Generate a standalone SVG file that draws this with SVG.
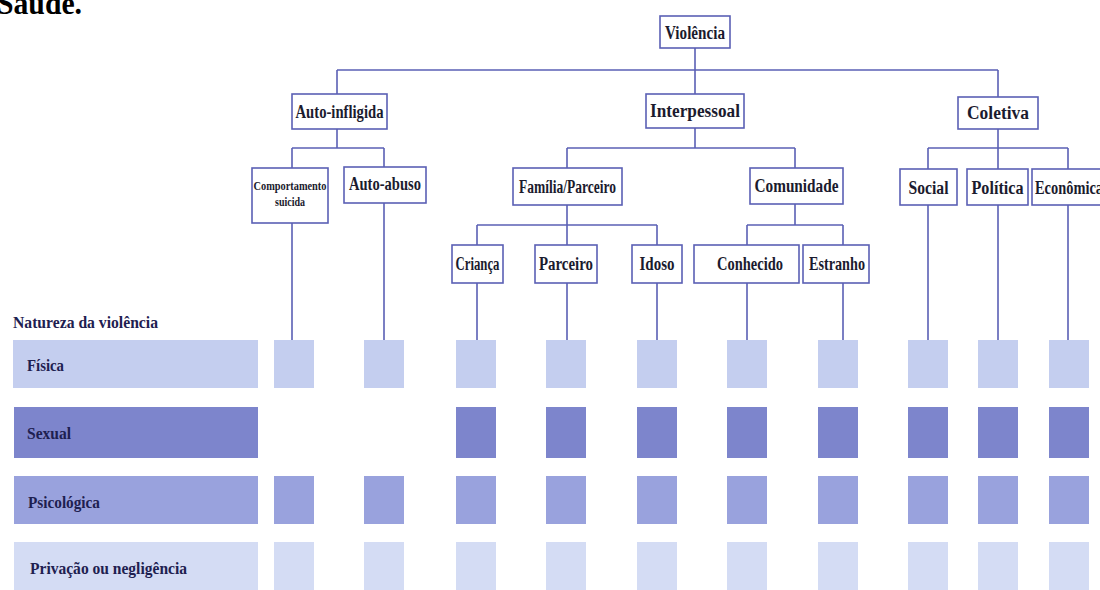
<svg xmlns="http://www.w3.org/2000/svg" width="1100" height="590" viewBox="0 0 1100 590">
  <style>
    .box { fill: #ffffff; stroke: #5b60b5; stroke-width: 1.6; }
    .conn { fill: none; stroke: #5b60b5; stroke-width: 1.6; }
    .lbl { font-family: "Liberation Serif", "Times New Roman", serif; font-weight: bold; font-size: 18px; fill: #1b1b2e; text-anchor: middle; }
    .sm { font-size: 13px; }
    .row { font-family: "Liberation Serif", "Times New Roman", serif; font-weight: bold; font-size: 17px; fill: #1e2050; }
    .fis { fill: #c4ceef; }
    .sex { fill: #7d85cc; }
    .psi { fill: #99a2dd; }
    .pri { fill: #d4dcf4; }
  </style>

  <text x="-3" y="14" font-family="Liberation Serif, serif" font-weight="bold" font-size="32" fill="#000000" textLength="85" lengthAdjust="spacingAndGlyphs">Saúde.</text>

  <g id="connectors">
    <path class="conn" d="M695,48 V70 M337,70 H998 M337,70 V94 M695,70 V94 M998,70 V97"/>
    <path class="conn" d="M337,129 V148 M292,148 H384 M292,148 V168 M384,148 V167"/>
    <path class="conn" d="M695,128 V148 M567,148 H795 M567,148 V168 M795,148 V168"/>
    <path class="conn" d="M998,129 V148 M928,148 H1068 M928,148 V169 M998,148 V169 M1068,148 V169"/>
    <path class="conn" d="M567,205 V225 M477,225 H657 M477,225 V245 M567,225 V245 M657,225 V245"/>
    <path class="conn" d="M795,204 V225 M747,225 H843 M747,225 V245 M843,225 V245"/>
    <path class="conn" d="M292,223 V340 M384,203 V340 M477,283 V340 M567,283 V340 M657,283 V340 M747,283 V340 M843,283 V340 M928,205 V340 M998,205 V340 M1068,205 V340"/>
  </g>

  <g id="violencia">
    <rect class="box" x="660" y="16" width="70" height="32"/>
    <text class="lbl" x="695" y="39" textLength="60" lengthAdjust="spacingAndGlyphs">Violência</text>
  </g>
  <g id="auto-infligida">
    <rect class="box" x="292" y="94" width="95" height="35"/>
    <text class="lbl" x="339.5" y="118" textLength="88" lengthAdjust="spacingAndGlyphs">Auto-infligida</text>
  </g>
  <g id="interpessoal">
    <rect class="box" x="646" y="94" width="98" height="34"/>
    <text class="lbl" x="695" y="117" textLength="90" lengthAdjust="spacingAndGlyphs">Interpessoal</text>
  </g>
  <g id="coletiva">
    <rect class="box" x="958" y="97" width="80" height="32"/>
    <text class="lbl" x="998" y="119" textLength="62" lengthAdjust="spacingAndGlyphs">Coletiva</text>
  </g>

  <g id="comportamento-suicida">
    <rect class="box" x="252" y="168" width="76" height="55"/>
    <text class="lbl sm" x="290" y="190" textLength="73" lengthAdjust="spacingAndGlyphs">Comportamento</text>
    <text class="lbl sm" x="290" y="206" textLength="30" lengthAdjust="spacingAndGlyphs">suicida</text>
  </g>
  <g id="auto-abuso">
    <rect class="box" x="344" y="167" width="82" height="36"/>
    <text class="lbl" x="385" y="190" textLength="72" lengthAdjust="spacingAndGlyphs">Auto-abuso</text>
  </g>
  <g id="familia-parceiro">
    <rect class="box" x="513" y="168" width="109" height="37"/>
    <text class="lbl" x="567.5" y="193" textLength="97" lengthAdjust="spacingAndGlyphs">Família/Parceiro</text>
  </g>
  <g id="comunidade">
    <rect class="box" x="750" y="168" width="93" height="36"/>
    <text class="lbl" x="796.5" y="192" textLength="84" lengthAdjust="spacingAndGlyphs">Comunidade</text>
  </g>
  <g id="social">
    <rect class="box" x="900" y="169" width="57" height="36"/>
    <text class="lbl" x="928.5" y="194" textLength="40" lengthAdjust="spacingAndGlyphs">Social</text>
  </g>
  <g id="politica">
    <rect class="box" x="967" y="169" width="61" height="36"/>
    <text class="lbl" x="997.5" y="194" textLength="52" lengthAdjust="spacingAndGlyphs">Política</text>
  </g>
  <g id="economica">
    <rect class="box" x="1032" y="169" width="74" height="36"/>
    <text class="lbl" x="1069" y="194" textLength="68" lengthAdjust="spacingAndGlyphs">Econômica</text>
  </g>

  <g id="crianca">
    <rect class="box" x="452" y="245" width="51" height="38"/>
    <text class="lbl" x="477.5" y="270" textLength="44" lengthAdjust="spacingAndGlyphs">Criança</text>
  </g>
  <g id="parceiro">
    <rect class="box" x="535" y="245" width="62" height="38"/>
    <text class="lbl" x="566" y="270" textLength="54" lengthAdjust="spacingAndGlyphs">Parceiro</text>
  </g>
  <g id="idoso">
    <rect class="box" x="632" y="245" width="50" height="38"/>
    <text class="lbl" x="657" y="270" textLength="35" lengthAdjust="spacingAndGlyphs">Idoso</text>
  </g>
  <g id="conhecido">
    <rect class="box" x="694" y="245" width="105" height="38"/>
    <text class="lbl" x="750" y="270" textLength="66" lengthAdjust="spacingAndGlyphs">Conhecido</text>
  </g>
  <g id="estranho">
    <rect class="box" x="803" y="245" width="66" height="38"/>
    <text class="lbl" x="837" y="270" textLength="56" lengthAdjust="spacingAndGlyphs">Estranho</text>
  </g>

  <g id="natureza">
    <text class="row" x="13" y="328" textLength="145" lengthAdjust="spacingAndGlyphs">Natureza da violência</text>
  </g>

  <g id="row-fisica">
    <rect class="fis" x="13" y="340" width="245" height="48"/>
    <text class="row" x="27" y="371" textLength="37" lengthAdjust="spacingAndGlyphs">Física</text>
    <rect class="fis" x="274" y="340" width="40" height="48"/>
    <rect class="fis" x="364" y="340" width="40" height="48"/>
    <rect class="fis" x="456" y="340" width="40" height="48"/>
    <rect class="fis" x="546" y="340" width="40" height="48"/>
    <rect class="fis" x="637" y="340" width="40" height="48"/>
    <rect class="fis" x="727" y="340" width="40" height="48"/>
    <rect class="fis" x="818" y="340" width="40" height="48"/>
    <rect class="fis" x="908" y="340" width="40" height="48"/>
    <rect class="fis" x="978" y="340" width="40" height="48"/>
    <rect class="fis" x="1049" y="340" width="40" height="48"/>
  </g>
  <g id="row-sexual">
    <rect class="sex" x="14" y="407" width="244" height="51"/>
    <text class="row" x="27" y="439" textLength="44" lengthAdjust="spacingAndGlyphs">Sexual</text>
    <rect class="sex" x="456" y="407" width="40" height="51"/>
    <rect class="sex" x="546" y="407" width="40" height="51"/>
    <rect class="sex" x="637" y="407" width="40" height="51"/>
    <rect class="sex" x="727" y="407" width="40" height="51"/>
    <rect class="sex" x="818" y="407" width="40" height="51"/>
    <rect class="sex" x="908" y="407" width="40" height="51"/>
    <rect class="sex" x="978" y="407" width="40" height="51"/>
    <rect class="sex" x="1049" y="407" width="40" height="51"/>
  </g>
  <g id="row-psicologica">
    <rect class="psi" x="14" y="476" width="244" height="48"/>
    <text class="row" x="28" y="508" textLength="72" lengthAdjust="spacingAndGlyphs">Psicológica</text>
    <rect class="psi" x="274" y="476" width="40" height="48"/>
    <rect class="psi" x="364" y="476" width="40" height="48"/>
    <rect class="psi" x="456" y="476" width="40" height="48"/>
    <rect class="psi" x="546" y="476" width="40" height="48"/>
    <rect class="psi" x="637" y="476" width="40" height="48"/>
    <rect class="psi" x="727" y="476" width="40" height="48"/>
    <rect class="psi" x="818" y="476" width="40" height="48"/>
    <rect class="psi" x="908" y="476" width="40" height="48"/>
    <rect class="psi" x="978" y="476" width="40" height="48"/>
    <rect class="psi" x="1049" y="476" width="40" height="48"/>
  </g>
  <g id="row-privacao">
    <rect class="pri" x="14" y="542" width="244" height="50"/>
    <text class="row" x="30" y="574" textLength="157" lengthAdjust="spacingAndGlyphs">Privação ou negligência</text>
    <rect class="pri" x="274" y="542" width="40" height="50"/>
    <rect class="pri" x="364" y="542" width="40" height="50"/>
    <rect class="pri" x="456" y="542" width="40" height="50"/>
    <rect class="pri" x="546" y="542" width="40" height="50"/>
    <rect class="pri" x="637" y="542" width="40" height="50"/>
    <rect class="pri" x="727" y="542" width="40" height="50"/>
    <rect class="pri" x="818" y="542" width="40" height="50"/>
    <rect class="pri" x="908" y="542" width="40" height="50"/>
    <rect class="pri" x="978" y="542" width="40" height="50"/>
    <rect class="pri" x="1049" y="542" width="40" height="50"/>
  </g>
</svg>
